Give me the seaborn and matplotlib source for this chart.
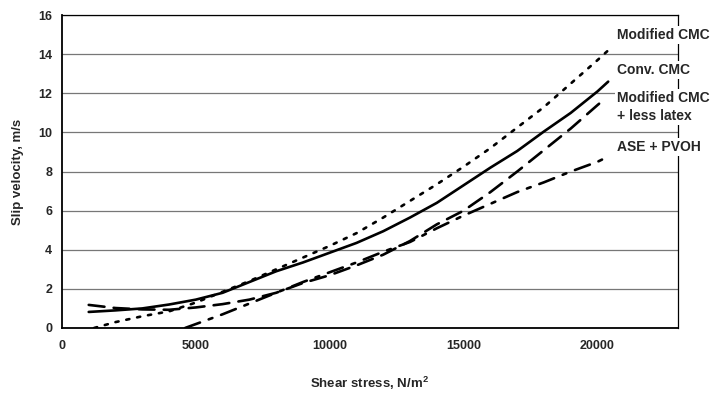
import matplotlib
matplotlib.use("Agg")
import matplotlib.pyplot as plt
import seaborn as sns
import pandas as pd
from matplotlib.ticker import MultipleLocator

# --- data ---
mod_x = [1200, 2000, 3000, 4000, 5000, 6000, 7000, 8000, 9000, 10000, 11000,
         12000, 13000, 14000, 15000, 16000, 17000, 18000, 19000, 20000, 20400]
mod_y = [0.0, 0.3, 0.6, 0.85, 1.3, 1.85, 2.4, 3.0, 3.6, 4.2, 4.85,
         5.65, 6.5, 7.35, 8.25, 9.2, 10.25, 11.3, 12.5, 13.7, 14.2]

conv_x = [1000, 2000, 3000, 4000, 5000, 6000, 7000, 8000, 9000, 10000, 11000,
          12000, 13000, 14000, 15000, 16000, 17000, 18000, 19000, 20000, 20400]
conv_y = [0.82, 0.9, 1.0, 1.2, 1.45, 1.8, 2.35, 2.9, 3.35, 3.85, 4.35,
          4.95, 5.65, 6.4, 7.3, 8.2, 9.05, 10.05, 11.0, 12.1, 12.6]

latex_x = [1000, 2000, 3000, 4000, 5000, 6000, 7000, 8000, 9000, 10000, 11000,
           12000, 13000, 14000, 15000, 16000, 17000, 18000, 19000, 20000, 20300]
latex_y = [1.18, 1.02, 0.95, 0.93, 1.05, 1.22, 1.45, 1.8, 2.3, 2.7, 3.2,
           3.75, 4.45, 5.3, 6.0, 6.95, 8.0, 9.1, 10.2, 11.4, 11.75]

ase_x = [4600, 5000, 6000, 7000, 8000, 9000, 10000, 11000, 12000, 13000,
         14000, 15000, 16000, 17000, 18000, 19000, 20000, 20300]
ase_y = [0.0, 0.2, 0.7, 1.25, 1.8, 2.35, 2.85, 3.35, 3.9, 4.4,
         5.1, 5.75, 6.35, 6.95, 7.45, 8.0, 8.5, 8.7]

labels = ["Modified CMC", "Conv. CMC", "Modified CMC\n+ less latex", "ASE + PVOH"]
label_y = [15.0, 13.2, 11.3, 9.25]

x_ticks = [0, 5000, 10000, 15000, 20000]
y_ticks = [0, 2, 4, 6, 8, 10, 12, 14, 16]

frames = []
for name, xs, ys in zip(labels, [mod_x, conv_x, latex_x, ase_x],
                        [mod_y, conv_y, latex_y, ase_y]):
    frames.append(pd.DataFrame({"x": xs, "y": ys, "series": name}))
df = pd.concat(frames, ignore_index=True)

sns.set_theme(style="white")
plt.rcParams["font.family"] = ["Liberation Sans", "DejaVu Sans"]

fig = plt.figure(figsize=(7.12, 3.99), dpi=100)
ax = fig.add_axes([0.087, 0.178, 0.865, 0.784])

dashes = {
    labels[0]: (1.2, 3.0),
    labels[1]: "",
    labels[2]: (6, 3.5),
    labels[3]: (6, 3.5, 1.5, 3.5),
}
sns.lineplot(data=df, x="x", y="y", style="series", dashes=dashes,
             color="black", linewidth=1.9, ax=ax, legend=False, sort=False,
             estimator=None)
for ln in ax.get_lines():
    ln.set_dash_capstyle("round")
    ln.set_solid_capstyle("round")
    ln.set_solid_joinstyle("round")

ax.set_xlim(0, 23000)
ax.set_ylim(0, 16)
ax.set_xticks(x_ticks)
ax.set_yticks(y_ticks)
ax.xaxis.set_minor_locator(MultipleLocator(1000))
ax.tick_params(axis="x", which="major", direction="inout", length=6, width=1,
               labelsize=9, pad=6)
ax.tick_params(axis="x", which="minor", direction="inout", length=4, width=0.8)
ax.tick_params(axis="y", which="major", direction="out", length=4, width=1,
               labelsize=9, pad=3)
for lab in ax.get_xticklabels() + ax.get_yticklabels():
    lab.set_fontweight("bold")

ax.yaxis.grid(True, color="#777777", linewidth=0.9)
ax.xaxis.grid(False)
ax.set_axisbelow(True)
for side in ["left", "bottom"]:
    ax.spines[side].set_color("black")
    ax.spines[side].set_linewidth(1.3)
for side in ["top", "right"]:
    ax.spines[side].set_color("black")
    ax.spines[side].set_linewidth(0.9)

ax.set_xlabel("Shear stress, N/m$^\\mathregular{2}$", fontsize=9.5,
              fontweight="bold", labelpad=16)
ax.set_ylabel("Slip velocity, m/s", fontsize=9.5, fontweight="bold", labelpad=10)

for txt, yy in zip(labels, label_y):
    ax.text(20720, yy, txt, fontsize=10, fontweight="bold", ha="left",
            va="center", linespacing=1.3, clip_on=False, zorder=10,
            bbox=dict(facecolor="white", edgecolor="none", pad=1.5))

fig.savefig("out.png", dpi=100)
